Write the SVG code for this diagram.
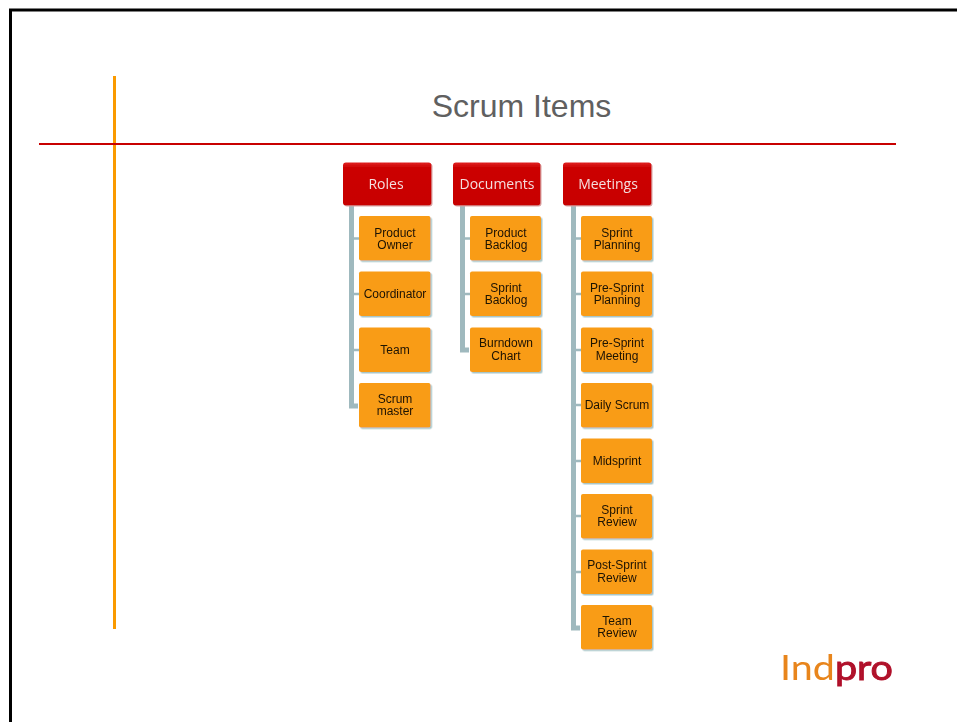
<svg xmlns="http://www.w3.org/2000/svg" width="957" height="722" viewBox="0 0 957 722">
<defs>
<filter id="soft" x="-10%" y="-10%" width="120%" height="120%"><feGaussianBlur stdDeviation="0.35"/></filter>
<filter id="shadeChild" x="-10%" y="-10%" width="125%" height="125%"><feDropShadow dx="1.500" dy="1.500" stdDeviation="0.700" flood-color="#a9c6c8"/></filter>
<filter id="shadeHead" x="-10%" y="-10%" width="125%" height="125%"><feDropShadow dx="1" dy="1" stdDeviation="0.700" flood-color="#d9a0a0"/></filter>
<linearGradient id="hd" x1="0" y1="0" x2="0" y2="1"><stop offset="0" stop-color="#e02020"/><stop offset="0.12" stop-color="#cc0000"/><stop offset="1" stop-color="#c80000"/></linearGradient>
</defs>
<style>
.head{fill:url(#hd);filter:url(#shadeHead)}
.child{fill:#f99c12;filter:url(#shadeChild)}
.conn{fill:none;stroke:#9fb9be;stroke-width:5}
.tick{fill:none;stroke:#9fb9be;stroke-width:2.500}
.ht{font:14px "Open Sans","Liberation Sans",sans-serif;fill:#f4dede;text-anchor:middle}
.ct{font:12px "Liberation Sans",Arial,sans-serif;fill:#1c1204;text-anchor:middle}
</style>
<rect id="background" width="957" height="722" fill="#fff"/>
<path id="frame" d="M10.500 722V10H957" fill="none" stroke="#000" stroke-width="3"/>
<rect id="accent-vertical" x="113" y="76" width="3" height="553" fill="#fa9a00"/>
<rect id="rule-horizontal" x="39" y="143" width="857" height="2" fill="#c80000"/>
<text id="title" x="521.500" y="117" font-family="Liberation Sans, Arial, sans-serif" font-size="32" fill="#606060" text-anchor="middle">Scrum Items</text>
<g id="connectors" filter="url(#soft)">
<path class="conn" d="M351.500 205V406H358"/>
<path class="tick" d="M351 238.500H359M351 294H359M351 350H359"/>
<path class="conn" d="M462.500 205V350H469"/>
<path class="tick" d="M462 238.500H470M462 294H470"/>
<path class="conn" d="M573.500 205V628H580"/>
<path class="tick" d="M573 238.500H581M573 294H581M573 350H581M573 405H581M573 461H581M573 516H581M573 572H581"/>
</g>
<g filter="url(#soft)">
<g id="node-roles"><rect class="head" x="343" y="162.500" width="88.500" height="43" rx="3"/><text class="ht" x="386" y="188.500">Roles</text></g>
<g id="node-documents"><rect class="head" x="453" y="162.500" width="87.500" height="43" rx="3"/><text class="ht" x="497" y="188.500">Documents</text></g>
<g id="node-meetings"><rect class="head" x="563" y="162.500" width="88.500" height="43" rx="3"/><text class="ht" x="608" y="188.500">Meetings</text></g>

<g id="node-product-owner"><rect class="child" x="359" y="216" width="71.500" height="44.500" rx="2"/><text class="ct" x="395" y="237">Product</text><text class="ct" x="395" y="249">Owner</text></g>
<g id="node-coordinator"><rect class="child" x="359" y="271.500" width="71.500" height="44.500" rx="2"/><text class="ct" x="395" y="298">Coordinator</text></g>
<g id="node-team"><rect class="child" x="359" y="327.500" width="71.500" height="44.500" rx="2"/><text class="ct" x="395" y="354">Team</text></g>
<g id="node-scrum-master"><rect class="child" x="359" y="383" width="71.500" height="44.500" rx="2"/><text class="ct" x="395" y="403">Scrum</text><text class="ct" x="395" y="415">master</text></g>

<g id="node-product-backlog"><rect class="child" x="470" y="216" width="71" height="44.500" rx="2"/><text class="ct" x="506" y="237">Product</text><text class="ct" x="506" y="249">Backlog</text></g>
<g id="node-sprint-backlog"><rect class="child" x="470" y="271.500" width="71" height="44.500" rx="2"/><text class="ct" x="506" y="292">Sprint</text><text class="ct" x="506" y="304">Backlog</text></g>
<g id="node-burndown-chart"><rect class="child" x="470" y="327.500" width="71" height="44.500" rx="2"/><text class="ct" x="506" y="347">Burndown</text><text class="ct" x="506" y="360">Chart</text></g>

<g id="node-sprint-planning"><rect class="child" x="581" y="216" width="71" height="44.500" rx="2"/><text class="ct" x="617" y="237">Sprint</text><text class="ct" x="617" y="249">Planning</text></g>
<g id="node-pre-sprint-planning"><rect class="child" x="581" y="271.500" width="71" height="44.500" rx="2"/><text class="ct" x="617" y="292">Pre-Sprint</text><text class="ct" x="617" y="304">Planning</text></g>
<g id="node-pre-sprint-meeting"><rect class="child" x="581" y="327.500" width="71" height="44.500" rx="2"/><text class="ct" x="617" y="347">Pre-Sprint</text><text class="ct" x="617" y="360">Meeting</text></g>
<g id="node-daily-scrum"><rect class="child" x="581" y="383" width="71" height="44.500" rx="2"/><text class="ct" x="617" y="409">Daily Scrum</text></g>
<g id="node-midsprint"><rect class="child" x="581" y="438.500" width="71" height="44.500" rx="2"/><text class="ct" x="617" y="465">Midsprint</text></g>
<g id="node-sprint-review"><rect class="child" x="581" y="494" width="71" height="44.500" rx="2"/><text class="ct" x="617" y="514">Sprint</text><text class="ct" x="617" y="526">Review</text></g>
<g id="node-post-sprint-review"><rect class="child" x="581" y="549.500" width="71" height="44.500" rx="2"/><text class="ct" x="617" y="569">Post-Sprint</text><text class="ct" x="617" y="582">Review</text></g>
<g id="node-team-review"><rect class="child" x="581" y="605" width="71" height="44.500" rx="2"/><text class="ct" x="617" y="625">Team</text><text class="ct" x="617" y="637">Review</text></g>
</g>
<text id="logo" x="780" y="680" font-family="Lato, Open Sans, sans-serif" font-size="35" filter="url(#soft)" textLength="113" lengthAdjust="spacingAndGlyphs"><tspan fill="#e8851c">Ind</tspan><tspan fill="#b0122a" stroke="#b0122a" stroke-width="0.900">pro</tspan></text>
</svg>
